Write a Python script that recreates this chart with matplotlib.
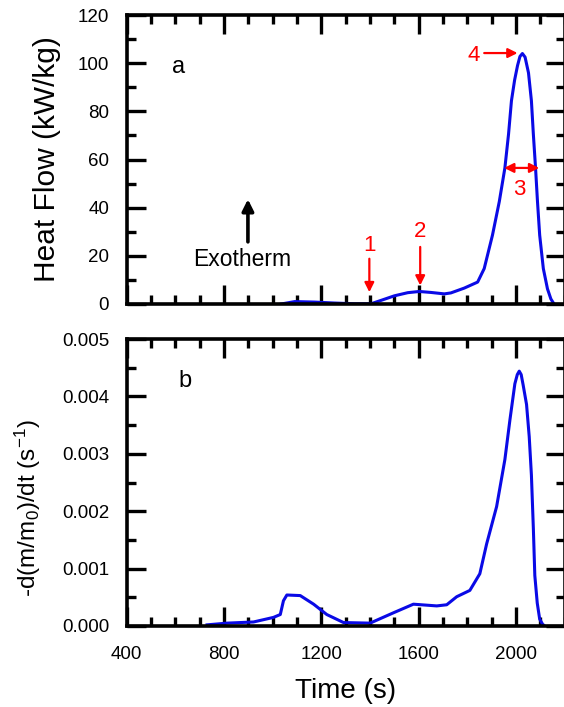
import numpy as np
import matplotlib.pyplot as plt
from matplotlib.ticker import MultipleLocator, FormatStrFormatter

plt.rcParams['font.family'] = ['Liberation Sans', 'DejaVu Sans']
plt.rcParams['mathtext.fontset'] = 'custom'
plt.rcParams['mathtext.rm'] = 'Liberation Sans'
plt.rcParams['mathtext.it'] = 'Liberation Sans:italic'

# heat release rate (panel a)
time_hf = [1036, 1091, 1173, 1255, 1337, 1405, 1446, 1501, 1556, 1603, 1651,
           1706, 1733, 1788, 1843, 1870, 1904, 1932, 1955, 1970, 1982, 1995,
           2007, 2017, 2027, 2038, 2052, 2064, 2072, 2081, 2089, 2098, 2113,
           2130, 2144, 2157]
heat_flow = [0.0, 1.0, 0.8, 0.4, 0.1, 0.1, 1.5, 3.4, 4.7, 5.2, 4.8,
             4.2, 4.6, 6.6, 9.1, 14.7, 28.6, 42.5, 56.5, 70.5, 84.4, 93.0,
             99.0, 102.8, 104.0, 102.5, 96.0, 84.4, 70.5, 56.5, 42.5, 28.6, 14.7,
             6.3, 2.1, 0.0]

# mass loss rate (panel b)
time_ml = [731, 813, 922, 1004, 1032, 1045, 1059, 1114, 1169, 1223, 1292,
           1401, 1497, 1579, 1675, 1716, 1757, 1811, 1852, 1880, 1921, 1955,
           1976, 1996, 2006, 2014, 2022, 2030, 2044, 2055, 2064, 2072, 2078,
           2088, 2098, 2110, 2119]
mass_rate = [0.00002, 0.00005, 0.00007, 0.00015, 0.00020, 0.00044, 0.00054,
             0.00053, 0.00038, 0.00020, 0.00006, 0.00005, 0.00023, 0.00038,
             0.00035, 0.00037, 0.00051, 0.00062, 0.00091, 0.00143, 0.00208,
             0.00290, 0.00360, 0.00422, 0.00438, 0.00444, 0.00438, 0.00420,
             0.00386, 0.00330, 0.00263, 0.00170, 0.00088, 0.00040, 0.00012,
             0.00003, 0.0]

line_color = '#0a0ae6'
red = '#ff0000'

fig = plt.figure(figsize=(5.64, 7.07), dpi=100)
ax1 = fig.add_axes([126.5 / 564, 1 - 304 / 707, 438 / 564, 289 / 707])
ax2 = fig.add_axes([126.5 / 564, 1 - 626 / 707, 438 / 564, 287 / 707])


def style(ax):
    for s in ax.spines.values():
        s.set_linewidth(2.6)
    ax.tick_params(which='both', direction='in', top=True, right=True,
                   width=2.4, labelsize=13.5)
    ax.tick_params(axis='y', pad=12.5)
    ax.tick_params(axis='x', pad=14.5)
    ax.tick_params(which='major', length=14)
    ax.tick_params(which='minor', length=6.5)
    ax.set_xlim(400, 2200)
    ax.xaxis.set_major_locator(MultipleLocator(400))
    ax.xaxis.set_minor_locator(MultipleLocator(100))


ax1.plot(time_hf, heat_flow, color=line_color, lw=2.2)
style(ax1)
ax1.set_ylim(0, 120)
ax1.yaxis.set_major_locator(MultipleLocator(20))
ax1.yaxis.set_minor_locator(MultipleLocator(10))
ax1.tick_params(labelbottom=False)
ax1.set_ylabel('Heat Flow (kW/kg)', fontsize=21.5)
ax1.yaxis.set_label_coords(-0.150, 0.5)

ax1.text(612, 98.6, 'a', fontsize=17, ha='center', va='center')
ax1.annotate('', xy=(899, 43.5), xytext=(899, 25.8),
             arrowprops=dict(arrowstyle='-|>', color='black', lw=2.6,
                             mutation_scale=17, shrinkA=0, shrinkB=0))
ax1.text(876, 18.6, 'Exotherm', fontsize=16.5, ha='center', va='center')

arrow_red = dict(arrowstyle='-|>', color=red, lw=1.6, mutation_scale=14,
                 shrinkA=0, shrinkB=0)
ax1.annotate('', xy=(1398, 4.9), xytext=(1398, 18.8), arrowprops=arrow_red)
ax1.text(1398, 24.4, '1', color=red, fontsize=16, ha='center', va='center')
ax1.annotate('', xy=(1607, 7.7), xytext=(1607, 23.7), arrowprops=arrow_red)
ax1.text(1607, 30, '2', color=red, fontsize=16, ha='center', va='center')
ax1.annotate('', xy=(2007, 104.2), xytext=(1870, 104.2), arrowprops=arrow_red)
ax1.text(1826, 103.3, '4', color=red, fontsize=16, ha='center', va='center')
ax1.annotate('', xy=(2096, 56.5), xytext=(1952, 56.5),
             arrowprops=dict(arrow_red, arrowstyle='<|-|>'))
ax1.text(2014, 47.4, '3', color=red, fontsize=16, ha='center', va='center')

ax2.plot(time_ml, mass_rate, color=line_color, lw=2.2)
style(ax2)
ax2.set_ylim(0, 0.005)
ax2.yaxis.set_major_locator(MultipleLocator(0.001))
ax2.yaxis.set_minor_locator(MultipleLocator(0.0005))
ax2.yaxis.set_major_formatter(FormatStrFormatter('%.3f'))
ax2.set_ylabel('-d(m/m$_0$)/dt (s$^{-1}$)', fontsize=17.5)
ax2.yaxis.set_label_coords(-0.191, 0.411)
ax2.set_xlabel('Time (s)', fontsize=20, labelpad=11)
ax2.text(639, 0.00427, 'b', fontsize=17, ha='center', va='center')

fig.savefig('out.png', dpi=100)
